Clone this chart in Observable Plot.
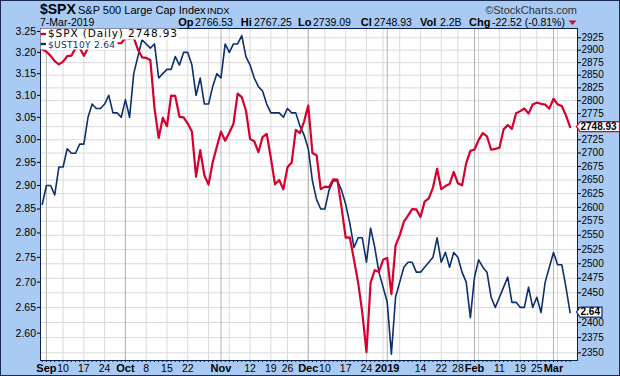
<!DOCTYPE html>
<html><head><meta charset="utf-8">
<script src="https://cdn.jsdelivr.net/npm/d3@7"></script>
<script src="https://cdn.jsdelivr.net/npm/@observablehq/plot@0.6"></script>
<style>
html,body{margin:0;padding:0;background:#fff;}
#chart svg{display:block;}
</style></head><body><div id="chart"></div>
<script>
// Trading days
const dates = [
"2018-08-31",
"2018-09-04","2018-09-05","2018-09-06","2018-09-07","2018-09-10","2018-09-11","2018-09-12","2018-09-13","2018-09-14","2018-09-17","2018-09-18","2018-09-19","2018-09-20","2018-09-21","2018-09-24","2018-09-25","2018-09-26","2018-09-27","2018-09-28",
"2018-10-01","2018-10-02","2018-10-03","2018-10-04","2018-10-05","2018-10-08","2018-10-09","2018-10-10","2018-10-11","2018-10-12","2018-10-15","2018-10-16","2018-10-17","2018-10-18","2018-10-19","2018-10-22","2018-10-23","2018-10-24","2018-10-25","2018-10-26","2018-10-29","2018-10-30","2018-10-31",
"2018-11-01","2018-11-02","2018-11-05","2018-11-06","2018-11-07","2018-11-08","2018-11-09","2018-11-12","2018-11-13","2018-11-14","2018-11-15","2018-11-16","2018-11-19","2018-11-20","2018-11-21","2018-11-23","2018-11-26","2018-11-27","2018-11-28","2018-11-29","2018-11-30",
"2018-12-03","2018-12-04","2018-12-06","2018-12-07","2018-12-10","2018-12-11","2018-12-12","2018-12-13","2018-12-14","2018-12-17","2018-12-18","2018-12-19","2018-12-20","2018-12-21","2018-12-24","2018-12-26","2018-12-27","2018-12-28","2018-12-31",
"2019-01-02","2019-01-03","2019-01-04","2019-01-07","2019-01-08","2019-01-09","2019-01-10","2019-01-11","2019-01-14","2019-01-15","2019-01-16","2019-01-17","2019-01-18","2019-01-22","2019-01-23","2019-01-24","2019-01-25","2019-01-28","2019-01-29","2019-01-30","2019-01-31",
"2019-02-01","2019-02-04","2019-02-05","2019-02-06","2019-02-07","2019-02-08","2019-02-11","2019-02-12","2019-02-13","2019-02-14","2019-02-15","2019-02-19","2019-02-20","2019-02-21","2019-02-22","2019-02-25","2019-02-26","2019-02-27","2019-02-28",
"2019-03-01","2019-03-04","2019-03-05","2019-03-06","2019-03-07"];

// $SPX daily close (right axis)
const spx = [
2901.52,
2896.72,2888.60,2878.05,2871.68,2877.13,2887.89,2888.92,2904.18,2904.98,2888.80,2904.31,2907.95,2930.75,2929.67,2919.37,2915.56,2905.97,2914.00,2913.98,
2924.59,2923.43,2925.51,2901.61,2885.57,2884.43,2880.34,2785.68,2728.37,2767.13,2750.79,2809.92,2809.21,2768.78,2767.78,2755.88,2740.69,2656.10,2705.57,2658.69,2641.25,2682.63,2711.74,
2740.37,2723.06,2738.31,2755.45,2813.89,2806.83,2781.01,2726.22,2722.18,2701.58,2730.20,2736.27,2690.73,2641.89,2649.93,2632.56,2673.45,2682.17,2743.79,2737.80,2760.17,
2790.37,2700.06,2695.95,2633.08,2637.72,2636.78,2651.07,2650.54,2599.95,2545.94,2546.16,2506.96,2467.42,2416.62,2351.10,2467.70,2488.83,2485.74,2506.85,
2510.03,2447.89,2531.94,2549.69,2574.41,2584.96,2596.64,2596.26,2582.61,2610.30,2616.10,2635.96,2670.71,2632.90,2638.70,2642.33,2664.76,2643.85,2640.00,2681.05,2704.10,
2706.53,2724.87,2737.70,2731.61,2706.05,2707.88,2709.80,2744.73,2753.03,2745.73,2775.60,2779.76,2784.70,2774.88,2792.67,2796.11,2793.90,2792.38,2784.49,
2803.69,2792.81,2789.65,2771.45,2748.93];

// $UST10Y (left axis)
const ust10y = [
2.86,
2.90,2.90,2.88,2.94,2.94,2.98,2.97,2.97,2.99,2.99,3.05,3.08,3.07,3.07,3.08,3.10,3.06,3.06,3.05,
3.09,3.05,3.15,3.19,3.23,3.22,3.21,3.22,3.14,3.15,3.16,3.16,3.19,3.17,3.20,3.20,3.17,3.10,3.14,3.08,3.08,3.12,3.15,
3.14,3.22,3.20,3.22,3.22,3.24,3.19,3.17,3.14,3.12,3.11,3.08,3.06,3.06,3.06,3.05,3.07,3.06,3.06,3.03,3.01,
2.98,2.91,2.87,2.85,2.85,2.89,2.91,2.91,2.89,2.86,2.82,2.77,2.79,2.79,2.74,2.81,2.77,2.72,2.69,
2.66,2.56,2.67,2.70,2.73,2.74,2.74,2.72,2.72,2.73,2.74,2.75,2.79,2.74,2.76,2.73,2.76,2.75,2.72,2.70,2.63,
2.71,2.745,2.73,2.72,2.67,2.65,2.67,2.69,2.71,2.66,2.66,2.65,2.65,2.69,2.65,2.67,2.64,2.70,2.73,
2.76,2.735,2.735,2.69,2.64];

const leftTicks = [2.60,2.65,2.70,2.75,2.80,2.85,2.90,2.95,3.00,3.05,3.10,3.15,3.20,3.25];
const rightTicks = [2350,2375,2400,2425,2450,2475,2500,2525,2550,2575,2600,2625,2650,2675,2700,2725,2750,2775,2800,2825,2850,2875,2900,2925];
const tickDates = ["2018-09-04","2018-09-10","2018-09-17","2018-09-24","2018-10-01","2018-10-08","2018-10-15","2018-10-22","2018-11-01","2018-11-12","2018-11-19","2018-11-26","2018-12-03","2018-12-10","2018-12-17","2018-12-24","2019-01-02","2019-01-14","2019-01-22","2019-01-28","2019-02-01","2019-02-11","2019-02-19","2019-02-25","2019-03-01"];
const tickLabels = ["Sep","10","17","24","Oct","8","15","22","Nov","12","19","26","Dec","10","17","24","2019","14","22","28","Feb","11","19","25","Mar"];

// scale domains
const yieldDomain = [2.548, 3.257];
const spxDomain = [2337.5, 2944];
const LY0 = Math.log(yieldDomain[0]), LY1 = Math.log(yieldDomain[1]);
const LS0 = Math.log(spxDomain[0]), LS1 = Math.log(spxDomain[1]);
const toSpx = v => Math.exp(LS0 + (Math.log(v) - LY0) / (LY1 - LY0) * (LS1 - LS0));
const fromSpx = s => Math.exp(LY0 + (Math.log(s) - LS0) / (LS1 - LS0) * (LY1 - LY0));

const idx = d3.range(dates.length);
const parsed = dates.map(d => new Date(d + "T00:00:00Z"));
const weekStarts = idx.filter(i => i > 0 && (parsed[i].getUTCDay() < parsed[i-1].getUTCDay()));
const monthStarts = idx.filter(i => i > 0 && parsed[i].getUTCMonth() !== parsed[i-1].getUTCMonth());
const spxRows = idx.map(i => ({i, v: spx[i]}));
const ustRows = idx.map(i => ({i, v: ust10y[i]}));
const labelRows = tickDates.map((d, k) => ({i: dates.indexOf(d), label: tickLabels[k], month: !/^\d{1,2}$/.test(tickLabels[k])}));

const lastSpx = spx[spx.length - 1];
const lastUst = ust10y[ust10y.length - 1];

// pre-compute y positions to know which right-axis labels sit under the last-value boxes
const yScale = Plot.scale({y: {type: "log", domain: spxDomain, range: [360, 28]}});
const boxYs = [yScale.apply(lastSpx), yScale.apply(toSpx(lastUst))];
const covered = t => boxYs.some(b => Math.abs(yScale.apply(t) - b) < 7);

const RED = "#d7002d", BLUE = "#0c2f6e", NAVY = "#0a1f4d";
const AXISFONT = "'Liberation Sans', Arial, sans-serif";

const plot = Plot.plot({
  width: 620, height: 376,
  marginLeft: 40, marginRight: 43, marginTop: 28, marginBottom: 16,
  style: {background: "#a9cbf3", fontFamily: AXISFONT, fontSize: "10.5px", color: "black", overflow: "visible"},
  x: {type: "linear", domain: [-0.43, 128.78], axis: null},
  y: {type: "log", domain: spxDomain, axis: null},
  marks: [
    Plot.frame({fill: "white"}),
    Plot.ruleY(rightTicks, {stroke: "#dadada", strokeWidth: 1}),
    Plot.ruleX(weekStarts, {stroke: "#dadada", strokeWidth: 1}),
    Plot.ruleX(monthStarts, {stroke: "#b3b3b3", strokeWidth: 1}),
    Plot.line(ustRows, {x: "i", y: d => toSpx(d.v), stroke: BLUE, strokeWidth: 1.6}),
    Plot.line(spxRows, {x: "i", y: "v", stroke: RED, strokeWidth: 2.2}),
    Plot.frame({stroke: NAVY, strokeWidth: 1}),
    Plot.axisY(rightTicks, {anchor: "right", tickSize: 3, tickPadding: 1, fontSize: 10, tickFormat: d => covered(d) ? "" : String(d), label: null}),
    Plot.axisY(leftTicks.map(toSpx), {anchor: "left", tickSize: 3, tickPadding: 1.5, tickFormat: d => fromSpx(d).toFixed(2), label: null}),
    Plot.axisX(idx, {anchor: "bottom", tickSize: 2, tickFormat: () => "", label: null, stroke: NAVY}),
    Plot.text(labelRows.filter(d => d.month), {x: "i", text: "label", frameAnchor: "bottom", lineAnchor: "bottom", dy: 11.5, fontWeight: "bold", fontSize: 11}),
    Plot.text(labelRows.filter(d => !d.month), {x: "i", text: "label", frameAnchor: "bottom", lineAnchor: "bottom", dy: 11.5, fontSize: 10.5})
  ]
});

document.getElementById("chart").appendChild(plot);

const svg = d3.select(plot);
const ys = plot.scale("y");

// outer border
svg.append("rect").attr("x", 0.5).attr("y", 0.5).attr("width", 619).attr("height", 375)
  .attr("fill", "none").attr("stroke", "#1b2a4f");

// header
const hdr = svg.append("g").attr("font-family", AXISFONT).attr("fill", "black").attr("text-anchor", "start");
hdr.append("text").attr("x", 40).attr("y", 13.5).attr("font-size", 14).attr("font-weight", "bold").text("$SPX");
hdr.append("text").attr("x", 78).attr("y", 13.5).attr("font-size", 11).text("S&P 500 Large Cap Index");
hdr.append("text").attr("x", 207).attr("y", 13.5).attr("font-size", 9.5).text("INDX");
hdr.append("text").attr("x", 577).attr("y", 13.5).attr("font-size", 11).attr("text-anchor", "end").attr("fill", "#333").text("©StockCharts.com");
hdr.append("text").attr("x", 40).attr("y", 25.5).attr("font-size", 10.5).text("7-Mar-2019");
const stats = [
  [178.3, "Op", true], [195, "2766.53", false],
  [240.7, "Hi", true], [254, "2767.25", false],
  [298, "Lo", true], [313, "2739.09", false],
  [360.7, "Cl", true], [374, "2748.93", false],
  [420, "Vol", true], [440, "2.2B", false],
  [469, "Chg", true], [492, "-22.52 (-0.81%)", false]
];
stats.forEach(([x, t, b]) => {
  hdr.append("text").attr("x", x).attr("y", 25.5).attr("font-size", b ? 11 : 10.5)
    .attr("font-weight", b ? "bold" : "normal").text(t);
});
hdr.append("path").attr("d", "M568.5,20.5 L576.5,20.5 L572.5,25 Z").attr("fill", "#c8102e");

// legend
const lg = svg.append("g").attr("font-family", "'DejaVu Sans', Verdana, sans-serif").attr("text-anchor", "start");
lg.append("rect").attr("x", 40.5).attr("y", 28.5).attr("width", 138).attr("height", 11).attr("fill", "white");
lg.append("rect").attr("x", 40.5).attr("y", 39.5).attr("width", 77).attr("height", 10).attr("fill", "white");
lg.append("rect").attr("x", 40.5).attr("y", 32.8).attr("width", 5.5).attr("height", 2.4).attr("fill", RED);
lg.append("rect").attr("x", 40.5).attr("y", 42.8).attr("width", 5.5).attr("height", 2.4).attr("fill", BLUE);
lg.append("text").attr("x", 48).attr("y", 37.3).attr("font-size", 10.5)
  .attr("textLength", 129).attr("lengthAdjust", "spacing").attr("fill", "black").text("$SPX (Daily) 2748.93");
lg.append("text").attr("x", 48).attr("y", 48.2).attr("font-size", 9)
  .attr("textLength", 67).attr("lengthAdjust", "spacing").attr("fill", BLUE).text("$UST10Y 2.64");

// last value boxes on the right axis
function lastBox(yv, label, color, w) {
  const yc = ys.apply(yv);
  const g = svg.append("g").attr("text-anchor", "start");
  g.append("path")
    .attr("d", `M576.5,${yc} L580,${yc - 5} L${576.5 + w},${yc - 5} L${576.5 + w},${yc + 5} L580,${yc + 5} Z`)
    .attr("fill", "white").attr("stroke", color).attr("stroke-width", 1.2);
  g.append("text").attr("x", 580.5).attr("y", yc + 3.4).attr("font-family", AXISFONT)
    .attr("font-size", 10).attr("font-weight", "bold").attr("fill", "black").text(label);
}
lastBox(lastSpx, "2748.93", RED, 43);
lastBox(toSpx(lastUst), "2.64", BLUE, 25.5);
</script></body></html>
